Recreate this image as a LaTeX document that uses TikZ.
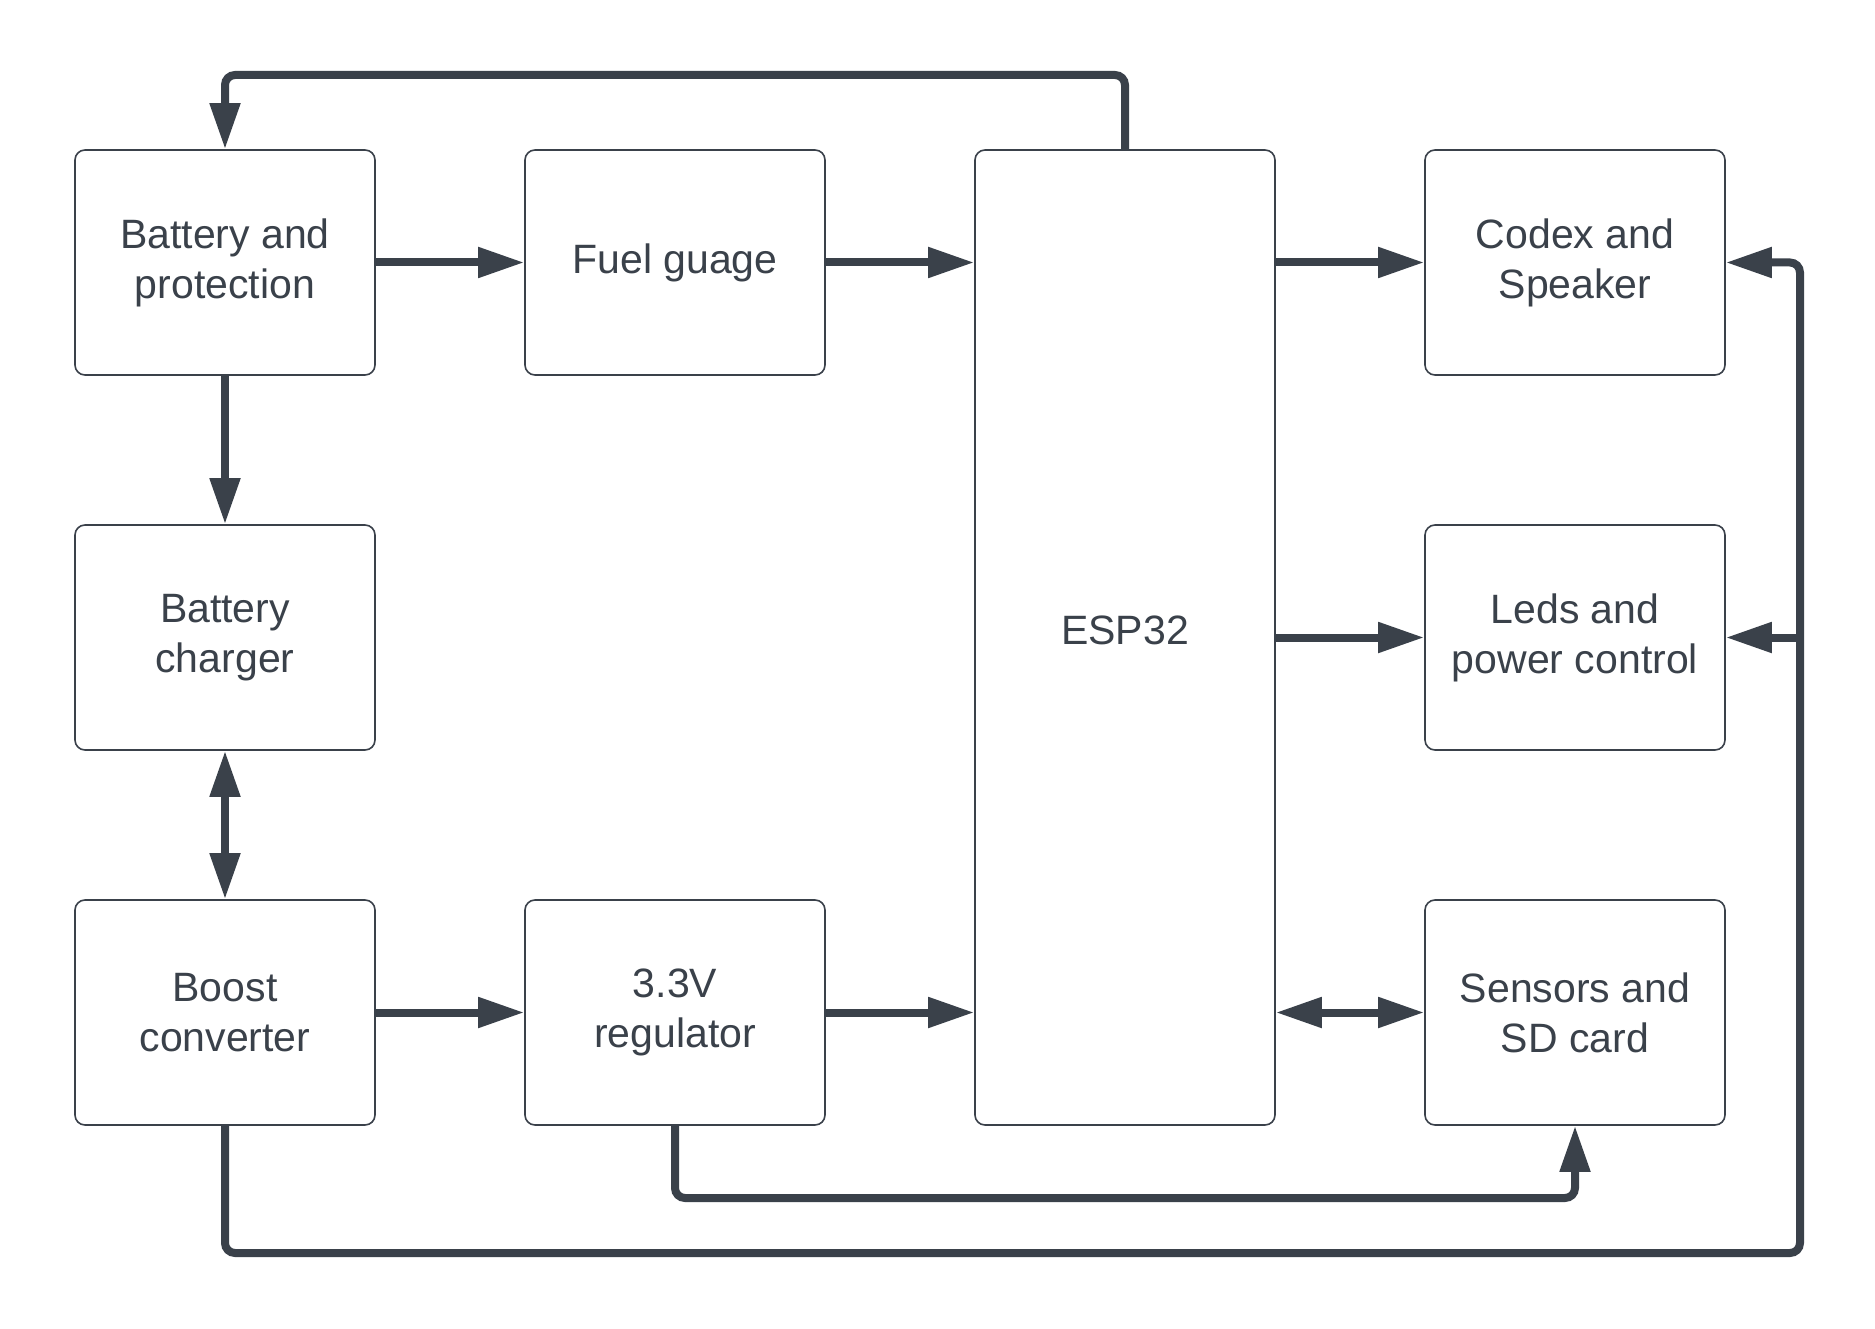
\documentclass[tikz,border=0pt]{standalone}
\usepackage{fontspec}
\setmainfont{Liberation Sans}
\usetikzlibrary{arrows.meta}
\definecolor{ink}{RGB}{58,65,74}
\begin{document}
\begin{tikzpicture}[x=1pt,y=-1pt,
  blk/.style={draw=ink, line width=1.6pt, rounded corners=10pt, fill=white,
    minimum width=300pt, minimum height=225pt, align=center,
    font=\fontsize{41}{50}\selectfont, text=ink, inner sep=0pt},
  conn/.style={draw=ink, line width=8pt, rounded corners=10pt,
    -{Triangle[length=46pt,width=29pt]}},
  both/.style={draw=ink, line width=8pt,
    {Triangle[length=46pt,width=29pt]}-{Triangle[length=46pt,width=29pt]}}]
\useasboundingbox[fill=white] (0,0) rectangle (1875,1329);

\node[blk] (bat)   at (225,262.5)  {Battery and\\protection};
\node[blk] (fuel)  at (675,262.5)  {Fuel guage};
\node[blk, minimum height=975pt, text depth=14pt] (esp) at (1125,637.5) {ESP32};
\node[blk] (codex) at (1575,262.5) {Codex and\\Speaker};
\node[blk] (chg)   at (225,637.5)  {Battery\\charger};
\node[blk] (leds)  at (1575,637.5) {Leds and\\power control};
\node[blk] (boost) at (225,1012.5) {Boost\\converter};
\node[blk] (reg)   at (675,1012.5) {3.3V\\regulator};
\node[blk] (sens)  at (1575,1012.5) {Sensors and\\SD card};

\coordinate (top) at (1125,75);
\coordinate (br) at (1800,1253);
\coordinate (rb) at (1575,1198);

\draw[conn] (bat.east) -- (fuel.west);
\draw[conn] (fuel.east) -- (fuel.east -| esp.west);
\draw[conn] (codex.west -| esp.east) -- (codex.west);
\draw[conn] (esp.east) -- (leds.west);
\draw[both] (sens.west -| esp.east) -- (sens.west);
\draw[conn] (boost.east) -- (reg.west);
\draw[conn] (reg.east) -- (reg.east -| esp.west);
\draw[conn] (bat.south) -- (chg.north);
\draw[both] (chg.south) -- (boost.north);
\draw[conn] (esp.north) -- (top) -| (bat.north);
\draw[conn] (reg.south) |- (rb) -- (sens.south);
\draw[conn] (boost.south) |- (br) -- (br |- codex.east) -- (codex.east);
\draw[conn] (br |- leds.east) -- (leds.east);
\end{tikzpicture}
\end{document}
